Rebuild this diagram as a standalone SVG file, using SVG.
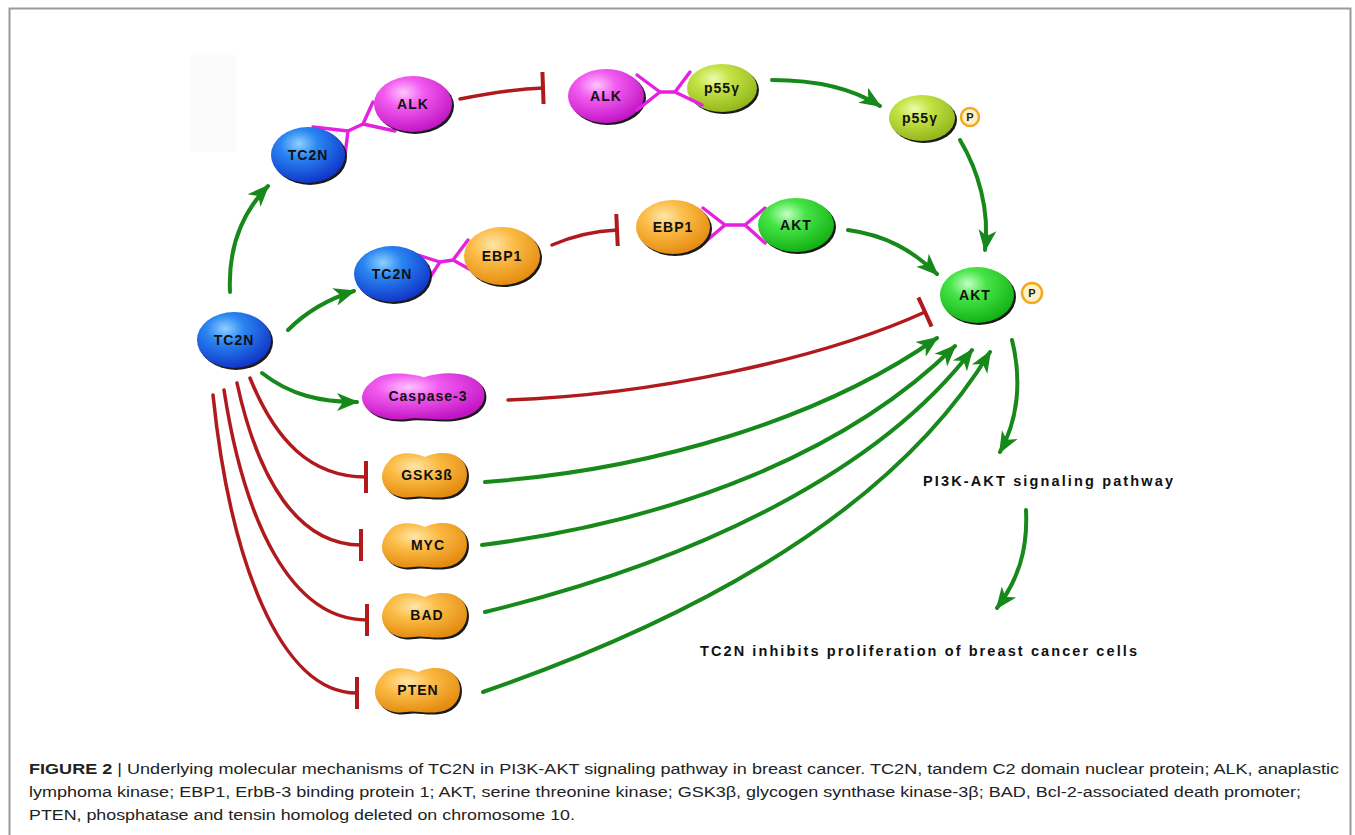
<svg xmlns="http://www.w3.org/2000/svg" xmlns:xlink="http://www.w3.org/1999/xlink" width="1355" height="835" viewBox="0 0 1355 835">
<style>
.lbl{font-family:"Liberation Sans",Arial,sans-serif;font-weight:bold;font-size:14px;fill:#111;text-anchor:middle;letter-spacing:1px}
.pl{font-family:"Liberation Sans",Arial,sans-serif;font-weight:bold;font-size:11px;fill:#222;text-anchor:middle}
.big{font-family:"Liberation Sans",Arial,sans-serif;font-weight:bold;font-size:14.5px;fill:#111}
.cap{font-family:"Liberation Sans",Arial,sans-serif;font-size:15.5px;fill:#222}
.act{fill:none;stroke:#17891a;stroke-width:4;stroke-linecap:round;marker-end:url(#ah)}
.inh{fill:none;stroke:#b01a1c;stroke-width:3.5;stroke-linecap:round;marker-end:url(#bar)}
.link{fill:none;stroke:#e620e0;stroke-width:3.4;stroke-linecap:round;stroke-linejoin:round}
.sh{fill:#1a1a1a}
.pc{fill:#fff2c4;stroke:#f0aa25;stroke-width:2.5}
</style>
<defs>
<radialGradient id="gBlue" cx="0.38" cy="0.3" r="0.72"><stop offset="0" stop-color="#8fd0ff"/><stop offset="0.35" stop-color="#2a86f2"/><stop offset="1" stop-color="#1034c8"/></radialGradient>
<radialGradient id="gMag" cx="0.38" cy="0.3" r="0.72"><stop offset="0" stop-color="#ffc4ff"/><stop offset="0.35" stop-color="#f25cf0"/><stop offset="1" stop-color="#c214c4"/></radialGradient>
<radialGradient id="gOra" cx="0.38" cy="0.3" r="0.72"><stop offset="0" stop-color="#ffe6a8"/><stop offset="0.4" stop-color="#fbbb45"/><stop offset="1" stop-color="#e48c10"/></radialGradient>
<radialGradient id="gGrn" cx="0.38" cy="0.3" r="0.72"><stop offset="0" stop-color="#c4ffc4"/><stop offset="0.35" stop-color="#46e446"/><stop offset="1" stop-color="#12b012"/></radialGradient>
<radialGradient id="gYel" cx="0.38" cy="0.3" r="0.72"><stop offset="0" stop-color="#eefaae"/><stop offset="0.35" stop-color="#c4e244"/><stop offset="1" stop-color="#92b61c"/></radialGradient>
<path id="bean" d="M-36,-14 C-28,-25 -10,-22 0,-18 C10,-23 32,-26 40,-10 C46,4 38,20 20,22 C8,24 -4,20 -12,22 C-30,25 -44,14 -43,0 C-42,-6 -40,-10 -36,-14 Z"/>
<marker id="ah" viewBox="0 0 22 20" refX="20" refY="10" markerWidth="22" markerHeight="20" markerUnits="userSpaceOnUse" orient="auto"><path d="M0,1 L22,10 L0,19 L6,10 Z" fill="#17891a"/></marker>
<marker id="bar" viewBox="0 0 6 32" refX="3" refY="16" markerWidth="6" markerHeight="32" markerUnits="userSpaceOnUse" orient="auto"><rect x="1" y="0" width="4" height="32" fill="#b01a1c"/></marker>
</defs>
<rect width="1355" height="835" fill="#fff"/>
<path d="M9.5,840 V8.5 H1350.5 V840" fill="none" stroke="#9a9a9a" stroke-width="2"/>
<rect x="190" y="55" width="46" height="97" fill="#fbfbfb"/>

<g id="connectors">
<path class="act" d="M230,292 C228,250 240,215 268,186"/>
<path class="act" d="M288,330 C305,313 325,300 354,291"/>
<path class="act" d="M262,373 C290,395 320,402 357,402"/>
<path class="inh" d="M460,99 C490,93 515,89 543,88"/>
<path class="inh" d="M552,245 C575,235 595,231 617,230"/>
<path class="act" d="M772,80 C820,80 855,90 880,106"/>
<path class="act" d="M960,140 C978,170 990,210 985,250"/>
<path class="act" d="M848,230 C885,235 912,250 937,274"/>
<path class="inh" d="M508,400 C650,395 820,360 925,312"/>
<path class="act" d="M485,482 C650,470 820,420 937,338"/>
<path class="act" d="M482,545 C680,520 850,450 955,346"/>
<path class="act" d="M485,612 C700,560 880,470 972,350"/>
<path class="act" d="M483,692 C720,610 900,500 990,352"/>
<path class="act" d="M1012,340 C1022,380 1018,420 1000,452"/>
<path class="act" d="M1026,510 C1028,550 1018,580 997,608"/>
<path class="inh" d="M250,378 C275,440 310,477 366,477"/>
<path class="inh" d="M237,383 C258,480 298,545 361,545"/>
<path class="inh" d="M224,390 C244,520 290,620 367,620"/>
<path class="inh" d="M213,395 C230,560 280,693 357,693"/>
</g>

<g id="tc2n-left"><ellipse class="sh" cx="236" cy="342" rx="37" ry="28"/><ellipse cx="234" cy="340" rx="37" ry="28" fill="url(#gBlue)"/><text class="lbl" x="234" y="345">TC2N</text></g>

<g id="complex-tc2n-alk">
<path class="link" d="M313,127 L348,131 L345,155 M348,131 L363,124 L373,102 M363,124 L395,131"/>
<ellipse class="sh" cx="310" cy="157" rx="37" ry="28"/><ellipse cx="308" cy="155" rx="37" ry="28" fill="url(#gBlue)"/><text class="lbl" x="308" y="160">TC2N</text>
<ellipse class="sh" cx="415" cy="106" rx="39" ry="28"/><ellipse cx="413" cy="104" rx="39" ry="28" fill="url(#gMag)"/><text class="lbl" x="413" y="109">ALK</text>
</g>

<g id="complex-alk-p55">
<ellipse class="sh" cx="608" cy="98" rx="38" ry="27"/><ellipse cx="606" cy="96" rx="38" ry="27" fill="url(#gMag)"/><text class="lbl" x="606" y="101">ALK</text>
<ellipse class="sh" cx="724" cy="90" rx="35" ry="24"/><ellipse cx="722" cy="88" rx="35" ry="24" fill="url(#gYel)"/><text class="lbl" x="722" y="93">p55γ</text>
<path class="link" d="M637,75 L660,92 L637,110 M660,92 L675,92 L690,72 M675,92 L702,105"/>
</g>

<g id="p55-p">
<ellipse class="sh" cx="924" cy="120" rx="33" ry="23"/><ellipse cx="922" cy="118" rx="33" ry="23" fill="url(#gYel)"/><text class="lbl" x="920" y="123">p55γ</text>
<circle class="pc" cx="970" cy="117" r="9"/><text class="pl" x="970" y="121">P</text>
</g>

<g id="complex-tc2n-ebp1">
<path class="link" d="M408,252 L440,262 L425,285 M440,262 L453,260 L468,240 M453,260 L480,275"/>
<ellipse class="sh" cx="394" cy="276" rx="38" ry="28"/><ellipse cx="392" cy="274" rx="38" ry="28" fill="url(#gBlue)"/><text class="lbl" x="392" y="279">TC2N</text>
<ellipse class="sh" cx="504" cy="258" rx="38" ry="29"/><ellipse cx="502" cy="256" rx="38" ry="29" fill="url(#gOra)"/><text class="lbl" x="502" y="261">EBP1</text>
</g>

<g id="complex-ebp1-akt">
<path class="link" d="M703,208 L725,225 L705,242 M725,225 L745,225 L765,208 M745,225 L765,243"/>
<ellipse class="sh" cx="675" cy="229" rx="37" ry="27"/><ellipse cx="673" cy="227" rx="37" ry="27" fill="url(#gOra)"/><text class="lbl" x="673" y="232">EBP1</text>
<ellipse class="sh" cx="798" cy="227" rx="38" ry="27"/><ellipse cx="796" cy="225" rx="38" ry="27" fill="url(#gGrn)"/><text class="lbl" x="796" y="230">AKT</text>
</g>

<g id="akt-p">
<ellipse class="sh" cx="979" cy="297" rx="37" ry="28"/><ellipse cx="977" cy="295" rx="37" ry="28" fill="url(#gGrn)"/><text class="lbl" x="975" y="300">AKT</text>
<circle class="pc" cx="1032" cy="293" r="10"/><text class="pl" x="1032" y="297">P</text>
</g>

<g id="caspase3"><use href="#bean" class="sh" transform="translate(426,398) scale(1.44,1.04)"/><use href="#bean" fill="url(#gMag)" transform="translate(424,396) scale(1.44,1.04)"/><text class="lbl" x="428" y="401">Caspase-3</text></g>
<g id="gsk3b"><use href="#bean" class="sh" transform="translate(427,477)"/><use href="#bean" fill="url(#gOra)" transform="translate(425,475)"/><text class="lbl" x="427" y="480">GSK3ß</text></g>
<g id="myc"><use href="#bean" class="sh" transform="translate(427,547)"/><use href="#bean" fill="url(#gOra)" transform="translate(425,545)"/><text class="lbl" x="428" y="550">MYC</text></g>
<g id="bad"><use href="#bean" class="sh" transform="translate(427,617)"/><use href="#bean" fill="url(#gOra)" transform="translate(425,615)"/><text class="lbl" x="427" y="620">BAD</text></g>
<g id="pten"><use href="#bean" class="sh" transform="translate(420,692)"/><use href="#bean" fill="url(#gOra)" transform="translate(418,690)"/><text class="lbl" x="418" y="695">PTEN</text></g>

<g id="pi3k-label"><text class="big" x="923" y="486" textLength="250" lengthAdjust="spacing">PI3K-AKT signaling pathway</text></g>
<g id="outcome-label"><text class="big" x="700" y="656" textLength="437" lengthAdjust="spacing">TC2N inhibits proliferation of breast cancer cells</text></g>

<g id="caption">
<text class="cap" x="29" y="774" textLength="1310" lengthAdjust="spacingAndGlyphs"><tspan font-weight="bold">FIGURE 2</tspan> | Underlying molecular mechanisms of TC2N in PI3K-AKT signaling pathway in breast cancer. TC2N, tandem C2 domain nuclear protein; ALK, anaplastic</text>
<text class="cap" x="29" y="797" textLength="1272" lengthAdjust="spacingAndGlyphs">lymphoma kinase; EBP1, ErbB-3 binding protein 1; AKT, serine threonine kinase; GSK3β, glycogen synthase kinase-3β; BAD, Bcl-2-associated death promoter;</text>
<text class="cap" x="29" y="820" textLength="546" lengthAdjust="spacingAndGlyphs">PTEN, phosphatase and tensin homolog deleted on chromosome 10.</text>
</g>
</svg>
